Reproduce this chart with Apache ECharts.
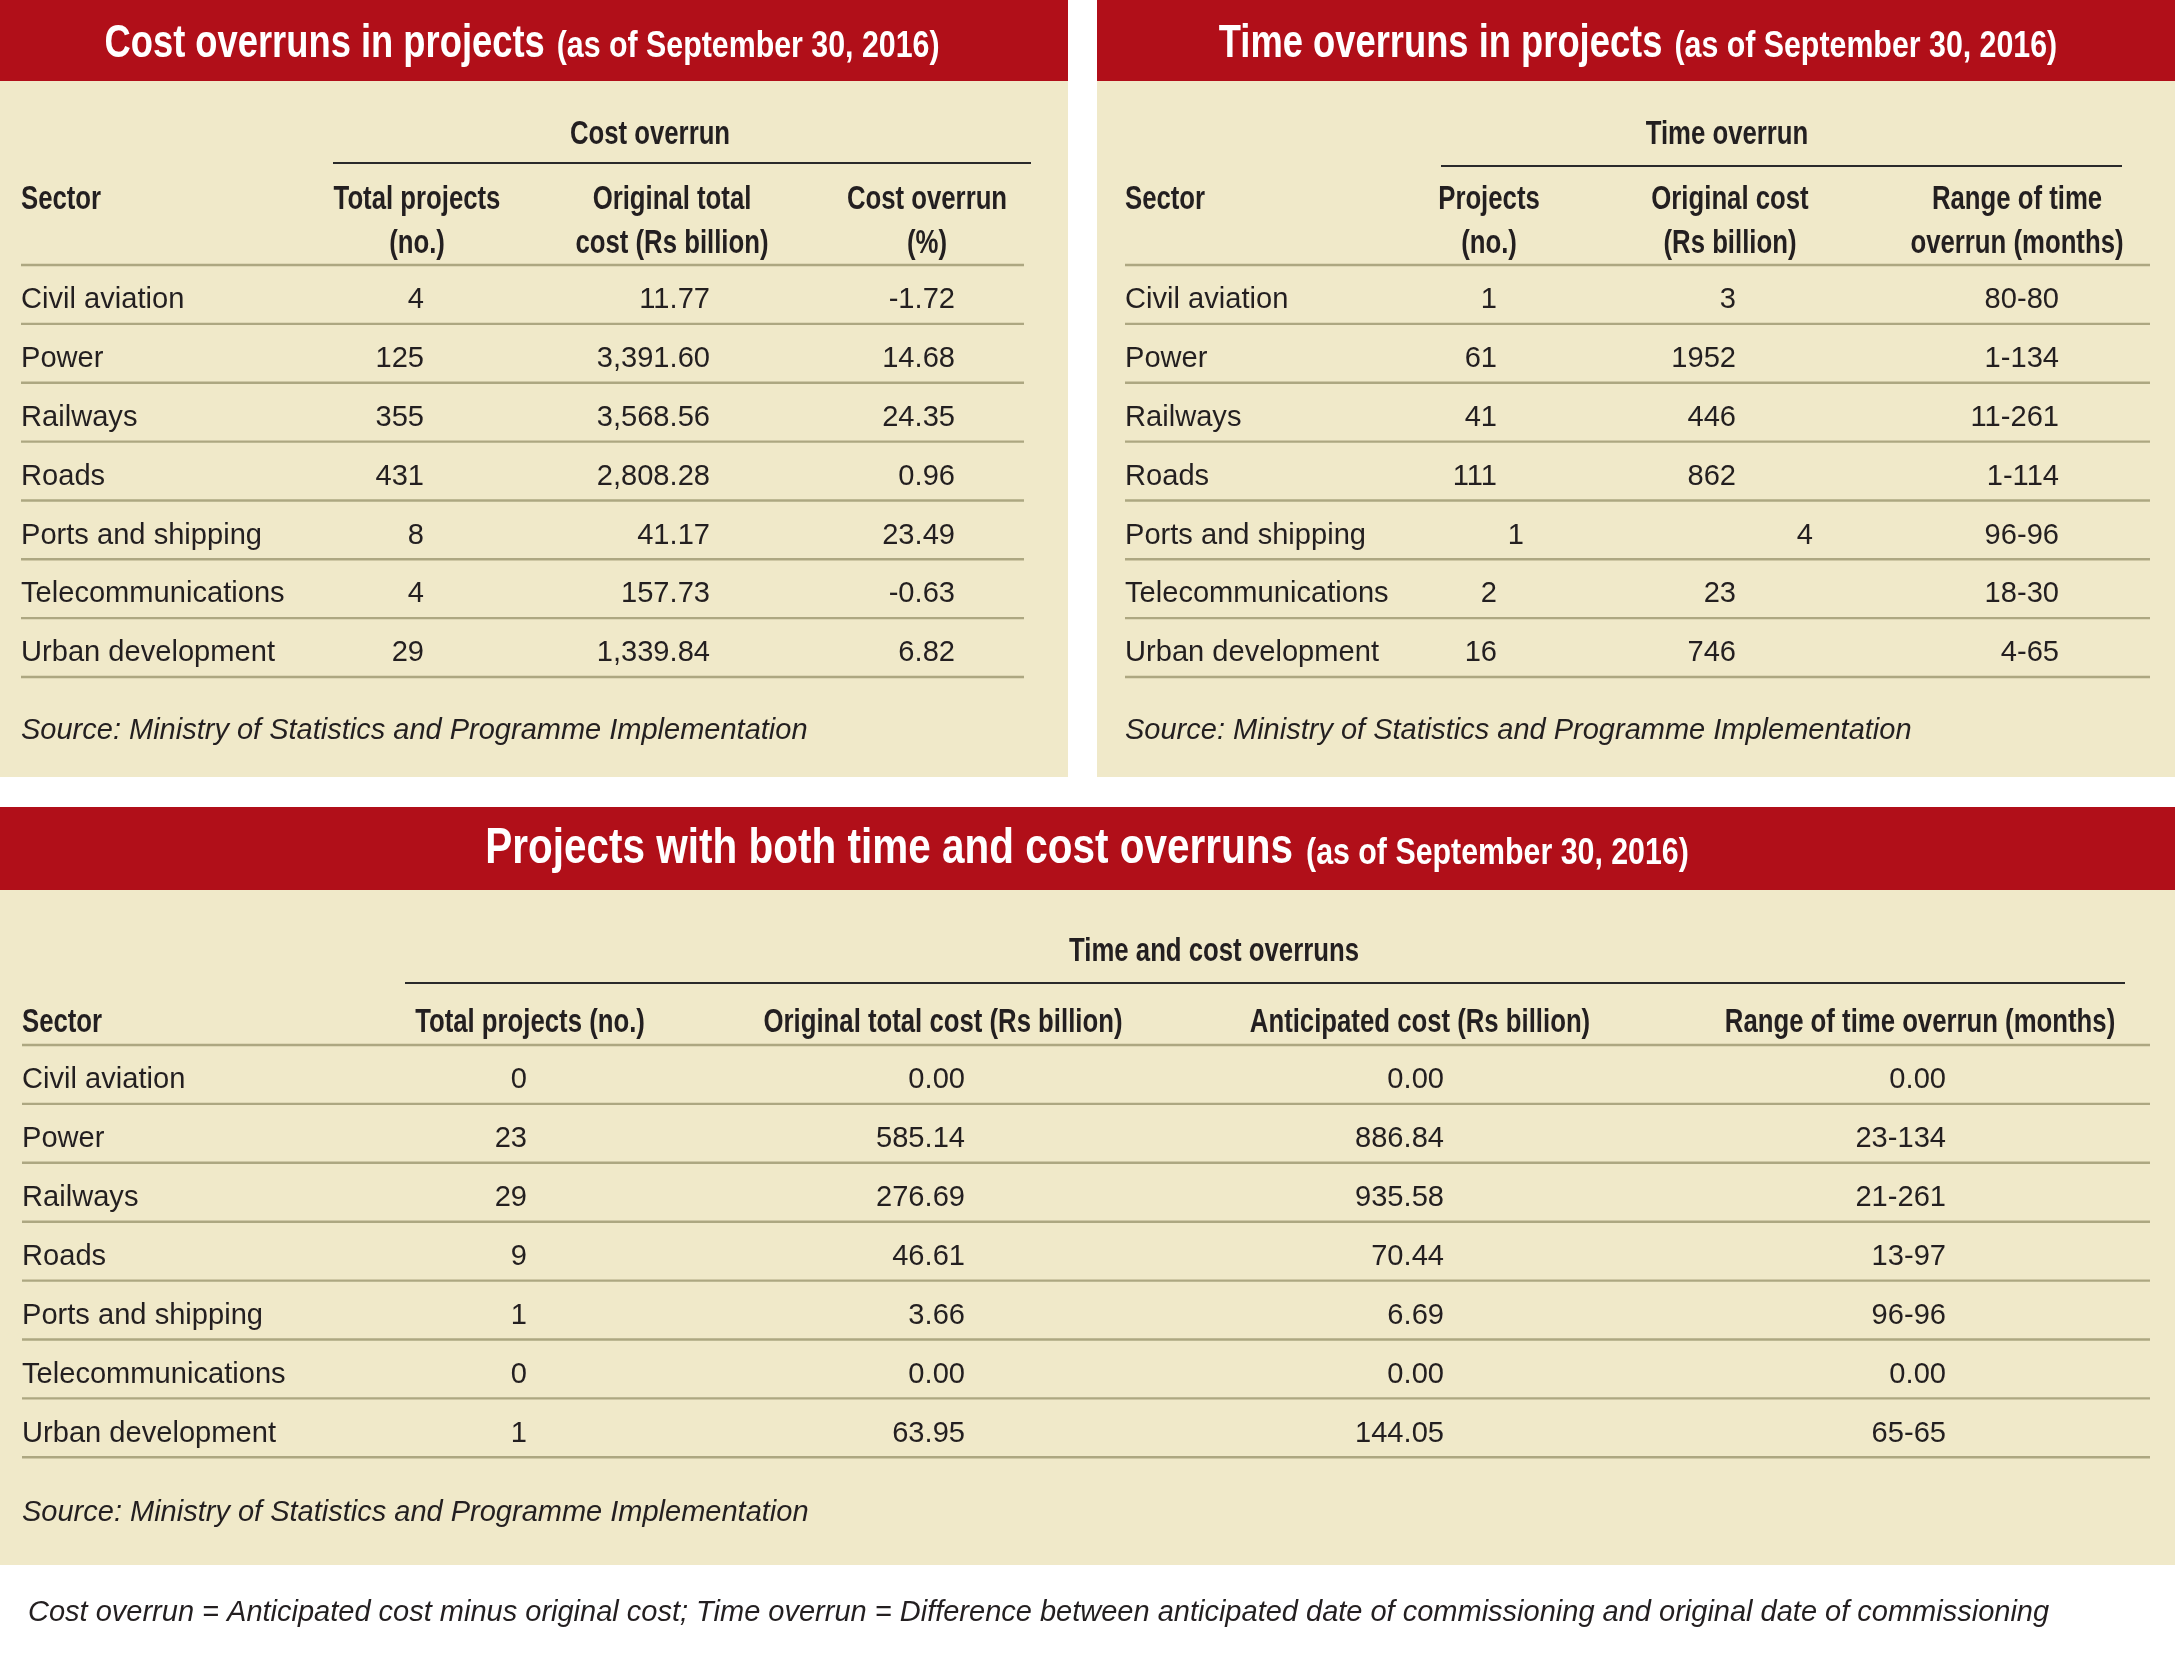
<!DOCTYPE html>
<html><head><meta charset="utf-8">
<script src="https://cdn.jsdelivr.net/npm/echarts@6/dist/echarts.min.js"></script>
<style>html,body{margin:0;padding:0;background:#ffffff}#c{width:2175px;height:1665px}</style>
</head><body><div id="c"></div>
<script>
// ---------------- DATA ----------------
const sectors = ['Civil aviation','Power','Railways','Roads','Ports and shipping','Telecommunications','Urban development'];
// Cost overruns table
const costTotalProjects = [4,125,355,431,8,4,29];
const costOriginalTotal = [11.77,3391.60,3568.56,2808.28,41.17,157.73,1339.84];
const costOverrunPct = [-1.72,14.68,24.35,0.96,23.49,-0.63,6.82];
// Time overruns table
const timeProjects = [1,61,41,111,1,2,16];
const timeOriginalCost = [3,1952,446,862,4,23,746];
const timeRange = ['80-80','1-134','11-261','1-114','96-96','18-30','4-65'];
// Both time and cost overruns table
const bothProjects = [0,23,29,9,1,0,1];
const bothOriginal = [0,585.14,276.69,46.61,3.66,0,63.95];
const bothAnticipated = [0,886.84,935.58,70.44,6.69,0,144.05];
const bothRange = ['0.00','23-134','21-261','13-97','96-96','0.00','65-65'];

const titleMain = ['Cost overruns in projects','Time overruns in projects','Projects with both time and cost overruns'];
const titleSub = '(as of September 30, 2016)';
const groupLabels = ['Cost overrun','Time overrun','Time and cost overruns'];
const costHeaders = [['Total projects','(no.)'],['Original total','cost (Rs billion)'],['Cost overrun','(%)']];
const timeHeaders = [['Projects','(no.)'],['Original cost','(Rs billion)'],['Range of time','overrun (months)']];
const bothHeaders = [['Total projects (no.)'],['Original total cost (Rs billion)'],['Anticipated cost (Rs billion)'],['Range of time overrun (months)']];
const sourceText = 'Source: Ministry of Statistics and Programme Implementation';
const footnote = 'Cost overrun = Anticipated cost minus original cost; Time overrun = Difference between anticipated date of commissioning and original date of commissioning';

// ---------------- FORMATTERS ----------------
const f2c = v => v.toLocaleString('en-US',{minimumFractionDigits:2,maximumFractionDigits:2});
const f2 = v => v.toFixed(2);
const fi = v => String(v);

// ---------------- STYLE / LAYOUT ----------------
const FAM = '"Liberation Sans", Arial, Helvetica, sans-serif';
const RED = '#B10F19', BEIGE = '#F0E9C9', RULE = '#ADA781', DARK = '#231F20';
const ST = {
  tMain: {size:46, weight:'bold', style:'normal', sx:0.79, fill:'#ffffff'},
  tMainBig: {size:50, weight:'bold', style:'normal', sx:0.81, fill:'#ffffff'},
  tSub:  {size:37, weight:'bold', style:'normal', sx:0.82, fill:'#ffffff'},
  head:  {size:33, weight:'bold', style:'normal', sx:0.78, fill:DARK},
  body:  {size:30, weight:'normal', style:'normal', sx:0.97, fill:DARK},
  note:  {size:29, weight:'normal', style:'italic', sx:1.0, fill:DARK}
};
const fontOf = s => `${s.style} ${s.weight} ${s.size}px ${FAM}`;
const cvs = document.createElement('canvas').getContext('2d');
const measure = (t, s) => { cvs.font = fontOf(s); return cvs.measureText(t).width * s.sx; };

const els = [];
function txt(x, baseline, text, s, align) {
  els.push({
    type:'text', x: x, y: baseline - 0.35 * s.size, scaleX: s.sx, silent:true,
    style:{text:text, x:0, y:0, font:fontOf(s), fill:s.fill,
           textAlign:align||'left', textVerticalAlign:'middle'}
  });
}
function rect(x, y, w, h, fill) {
  els.push({type:'rect', silent:true, shape:{x:x,y:y,width:w,height:h}, style:{fill:fill}});
}
function line(x1, y1, x2, y2, stroke, lw) {
  els.push({type:'line', silent:true, shape:{x1:x1,y1:y1,x2:x2,y2:y2}, style:{stroke:stroke, lineWidth:lw}});
}
function title(cx, baseline, main, mainStyle, gap) {
  const w1 = measure(main, mainStyle), w2 = measure(titleSub, ST.tSub);
  const x0 = cx - (w1 + gap + w2) / 2;
  txt(x0, baseline, main, mainStyle, 'left');
  txt(x0 + w1 + gap, baseline, titleSub, ST.tSub, 'left');
}

// table drawer
function table(cfg) {
  txt(cfg.groupCx, cfg.groupBase, cfg.group, ST.head, 'center');
  line(cfg.groupX1, cfg.groupY, cfg.groupX2, cfg.groupY, '#2a2a2a', 1.8);
  txt(cfg.left, cfg.headBase[0], 'Sector', ST.head, 'left');
  cfg.headers.forEach((h, i) => {
    h.forEach((ln, j) => txt(cfg.cols[i].cx, cfg.headBase[j], ln, ST.head, 'center'));
  });
  line(cfg.left, cfg.headRule, cfg.right, cfg.headRule, RULE, 2.4);
  sectors.forEach((sec, r) => {
    const rule = cfg.headRule + cfg.pitch * (r + 1);
    const base = rule - 13.5;
    txt(cfg.left, base, sec, ST.body, 'left');
    cfg.columns.forEach((col, c) => {
      const shift = (cfg.shift && cfg.shift[r] && cfg.shift[r][c]) || 0;
      txt(cfg.cols[c].rx + shift, base, col.fmt(col.data[r]), ST.body, 'right');
    });
    line(cfg.left, rule, cfg.right, rule, RULE, 2.4);
  });
  txt(cfg.left, cfg.srcBase, sourceText, ST.note, 'left');
}

// panels
rect(0, 0, 1068, 81, RED);       rect(0, 81, 1068, 696, BEIGE);
rect(1097, 0, 1078, 81, RED);    rect(1097, 81, 1078, 696, BEIGE);
rect(0, 807, 2175, 83, RED);     rect(0, 890, 2175, 675, BEIGE);

title(522, 60, titleMain[0], ST.tMain, 12);
title(1638, 60, titleMain[1], ST.tMain, 12);
title(1087, 867, titleMain[2], ST.tMainBig, 13);

table({
  group: groupLabels[0], groupCx: 650, groupBase: 146, groupX1: 333, groupX2: 1031, groupY: 163,
  left: 21, right: 1024, headBase: [211, 255], headRule: 265, pitch: 58.86, srcBase: 741,
  headers: costHeaders,
  cols: [{cx:417, rx:424}, {cx:672, rx:710}, {cx:927, rx:955}],
  columns: [{data:costTotalProjects, fmt:fi}, {data:costOriginalTotal, fmt:f2c}, {data:costOverrunPct, fmt:f2}]
});
table({
  group: groupLabels[1], groupCx: 1727, groupBase: 146, groupX1: 1441, groupX2: 2122, groupY: 166,
  left: 1125, right: 2150, headBase: [211, 255], headRule: 265, pitch: 58.86, srcBase: 741,
  headers: timeHeaders,
  cols: [{cx:1489, rx:1497}, {cx:1730, rx:1736}, {cx:2017, rx:2059}],
  shift: {4: [27, 77, 0]},
  columns: [{data:timeProjects, fmt:fi}, {data:timeOriginalCost, fmt:fi}, {data:timeRange, fmt:fi}]
});
table({
  group: groupLabels[2], groupCx: 1214, groupBase: 963, groupX1: 405, groupX2: 2125, groupY: 983,
  left: 22, right: 2150, headBase: [1034], headRule: 1045, pitch: 58.9, srcBase: 1523,
  headers: bothHeaders,
  cols: [{cx:530, rx:527}, {cx:943, rx:965}, {cx:1420, rx:1444}, {cx:1920, rx:1946}],
  columns: [{data:bothProjects, fmt:fi}, {data:bothOriginal, fmt:f2}, {data:bothAnticipated, fmt:f2}, {data:bothRange, fmt:fi}]
});

txt(28, 1623, footnote, ST.note, 'left');

const chart = echarts.init(document.getElementById('c'), null, {renderer:'canvas'});
chart.setOption({
  backgroundColor: '#ffffff',
  animation: false,
  graphic: {elements: els}
});
</script>
</body></html>
